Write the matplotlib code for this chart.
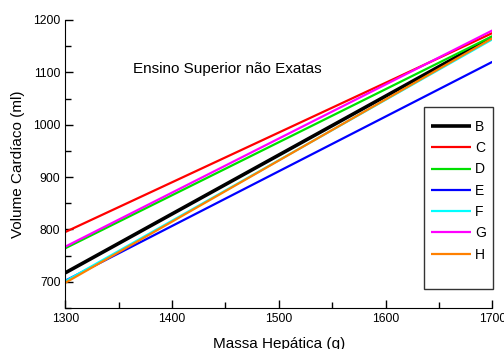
import matplotlib
matplotlib.use("Agg")
import matplotlib.pyplot as plt
from matplotlib.patches import Rectangle
from matplotlib.ticker import MultipleLocator

plt.rcParams['font.family'] = ['Liberation Sans', 'DejaVu Sans']

# Massa hepática (g) nos extremos
massa = [1300, 1700]
# Volume cardíaco (ml) para cada grupo
serie_b = [717, 1167]
serie_c = [795, 1175]
serie_d = [764, 1169]
serie_e = [702, 1120]
serie_f = [701, 1163]
serie_g = [767, 1180]
serie_h = [698, 1165]

nomes = ['B', 'C', 'D', 'E', 'F', 'G', 'H']
series = [serie_b, serie_c, serie_d, serie_e, serie_f, serie_g, serie_h]
cores = ['#000000', '#ff0000', '#00e000', '#0000ff', '#00ffff', '#ff00ff', '#ff8000']

fig = plt.figure(figsize=(5.04, 3.49), dpi=100)
ax = fig.add_axes([0.1296, 0.1178, 0.8472, 0.8249])

for nome, s, c in zip(nomes, series, cores):
    lw = 2.6 if nome == 'B' else 1.6
    ax.plot(massa, s, color=c, lw=lw, label=nome, solid_capstyle='butt')

ax.set_xlim(1300, 1700)
ax.set_ylim(650, 1200)
ax.xaxis.set_major_locator(MultipleLocator(100))
ax.xaxis.set_minor_locator(MultipleLocator(50))
ax.yaxis.set_major_locator(MultipleLocator(100))
ax.yaxis.set_minor_locator(MultipleLocator(50))
ax.set_yticks([700, 800, 900, 1000, 1100, 1200])
ax.tick_params(which='both', direction='in', labelsize=8.7, width=1)
ax.tick_params(which='major', length=5.5)
ax.tick_params(which='minor', length=4)
ax.spines['top'].set_visible(False)
ax.spines['right'].set_visible(False)

ax.set_xlabel('Massa Hepática (g)', fontsize=11, labelpad=9)
ax.set_ylabel('Volume Cardíaco (ml)', fontsize=11, labelpad=6)

ax.text(1363, 1106, 'Ensino Superior não Exatas', fontsize=11, va='center', ha='left')

# Caixa da legenda
ax.add_patch(Rectangle((0.8395, 0.064), 0.1615, 0.6325, transform=ax.transAxes,
                       fill=False, edgecolor='#333333', lw=1, clip_on=False, zorder=5))
leg = ax.legend(loc='upper left', bbox_to_anchor=(0.833, 0.687), frameon=False,
                fontsize=10, handlelength=2.9, handletextpad=0.3,
                labelspacing=0.525, borderpad=0.2)

fig.savefig('out.png', dpi=100)
